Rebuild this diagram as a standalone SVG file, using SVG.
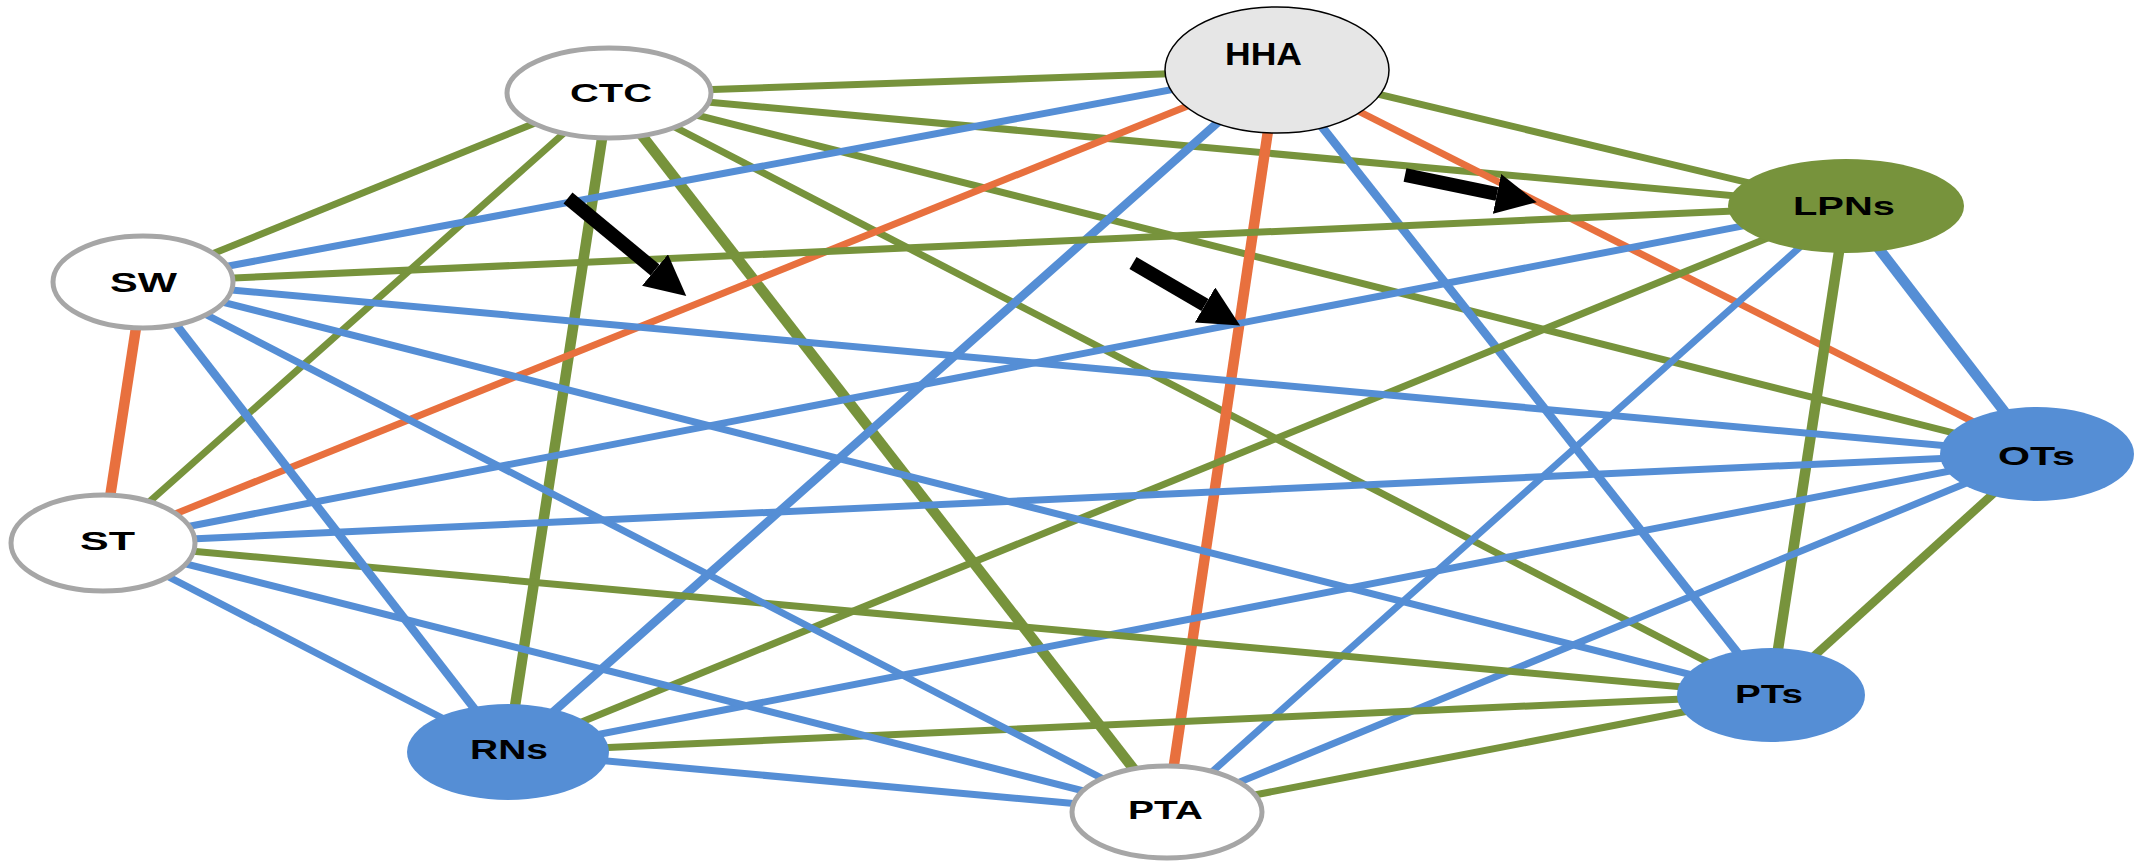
<svg xmlns="http://www.w3.org/2000/svg" width="2136" height="861" viewBox="0 0 2136 861">
<style>
.e{fill:none;stroke-linecap:butt}
.g{stroke:#77933c}
.b{stroke:#558ed5}
.o{stroke:#e8703e}
.n{stroke-width:7}
.m{stroke-width:8.5}
.t{stroke-width:10.5}
.wn{fill:#ffffff;stroke:#a6a6a6;stroke-width:5}
.bn{fill:#558ed5}
.lbl{font-family:"Liberation Sans",Arial,sans-serif;font-weight:bold;fill:#000}
.arr{stroke:#000;stroke-width:14;fill:none}
</style>
<defs>
<marker id="ah" viewBox="0 0 10 10" refX="0" refY="5" markerWidth="2.9" markerHeight="2.9" markerUnits="strokeWidth" orient="auto">
<path d="M0,0 L10,5 L0,10 z" fill="#000"/>
</marker>
</defs>
<rect width="2136" height="861" fill="#fff"/>
<g id="connectors">
<line class="e g n" x1="609" y1="93" x2="1277" y2="70"/>
<line class="e g n" x1="609" y1="93" x2="1846" y2="206"/>
<line class="e g n" x1="609" y1="93" x2="2037" y2="454"/>
<line class="e g n" x1="609" y1="93" x2="1771" y2="695"/>
<line class="e g t" x1="609" y1="93" x2="1167" y2="812"/>
<line class="e g t" x1="609" y1="93" x2="508" y2="752"/>
<line class="e g n" x1="609" y1="93" x2="103" y2="543"/>
<line class="e g n" x1="609" y1="93" x2="143" y2="282"/>
<line class="e b n" x1="1277" y1="70" x2="143" y2="282"/>
<line class="e o n" x1="1277" y1="70" x2="103" y2="543"/>
<line class="e b m" x1="1277" y1="70" x2="508" y2="752"/>
<line class="e o t" x1="1277" y1="70" x2="1167" y2="812"/>
<line class="e b m" x1="1277" y1="70" x2="1771" y2="695"/>
<line class="e o n" x1="1277" y1="70" x2="2037" y2="454"/>
<line class="e g n" x1="1277" y1="70" x2="1846" y2="206"/>
<line class="e g n" x1="1846" y1="206" x2="143" y2="282"/>
<line class="e b n" x1="1846" y1="206" x2="103" y2="543"/>
<line class="e g n" x1="1846" y1="206" x2="508" y2="752"/>
<line class="e b n" x1="1846" y1="206" x2="1167" y2="812"/>
<line class="e g t" x1="1846" y1="206" x2="1771" y2="695"/>
<line class="e b t" x1="1846" y1="206" x2="2037" y2="454"/>
<line class="e b n" x1="2037" y1="454" x2="143" y2="282"/>
<line class="e b n" x1="2037" y1="454" x2="103" y2="543"/>
<line class="e b n" x1="2037" y1="454" x2="508" y2="752"/>
<line class="e b n" x1="2037" y1="454" x2="1167" y2="812"/>
<line class="e g m" x1="2037" y1="454" x2="1771" y2="695"/>
<line class="e b n" x1="1771" y1="695" x2="143" y2="282"/>
<line class="e g n" x1="1771" y1="695" x2="103" y2="543"/>
<line class="e g n" x1="1771" y1="695" x2="508" y2="752"/>
<line class="e g n" x1="1771" y1="695" x2="1167" y2="812"/>
<line class="e b n" x1="1167" y1="812" x2="143" y2="282"/>
<line class="e b n" x1="1167" y1="812" x2="103" y2="543"/>
<line class="e b n" x1="1167" y1="812" x2="508" y2="752"/>
<line class="e b m" x1="508" y1="752" x2="143" y2="282"/>
<line class="e b n" x1="508" y1="752" x2="103" y2="543"/>
<line class="e o t" x1="143" y1="282" x2="103" y2="543"/>
</g>
<g id="node-HHA">
<ellipse cx="1277" cy="70" rx="112" ry="63" fill="#e6e6e6" stroke="#000" stroke-width="1.5"/>
<text class="lbl" x="1225" y="65" font-size="32" textLength="77" lengthAdjust="spacingAndGlyphs">HHA</text>
</g>
<g id="node-CTC">
<ellipse class="wn" cx="609" cy="93" rx="102" ry="45"/>
<text class="lbl" x="570" y="102" font-size="25" textLength="82" lengthAdjust="spacingAndGlyphs">CTC</text>
</g>
<g id="node-SW">
<ellipse class="wn" cx="143" cy="282" rx="90" ry="46"/>
<text class="lbl" x="110" y="292" font-size="27" textLength="67" lengthAdjust="spacingAndGlyphs">SW</text>
</g>
<g id="node-ST">
<ellipse class="wn" cx="103" cy="543" rx="92" ry="48"/>
<text class="lbl" x="80" y="550" font-size="25" textLength="55" lengthAdjust="spacingAndGlyphs">ST</text>
</g>
<g id="node-RNs">
<ellipse class="bn" cx="508" cy="752" rx="101" ry="48"/>
<text class="lbl" x="470" y="759" font-size="27" textLength="78" lengthAdjust="spacingAndGlyphs">RNs</text>
</g>
<g id="node-PTA">
<ellipse class="wn" cx="1167" cy="812" rx="95" ry="46"/>
<text class="lbl" x="1128" y="819" font-size="26" textLength="75" lengthAdjust="spacingAndGlyphs">PTA</text>
</g>
<g id="node-PTs">
<ellipse class="bn" cx="1771" cy="695" rx="94" ry="47"/>
<text class="lbl" x="1735" y="703" font-size="26" textLength="68" lengthAdjust="spacingAndGlyphs">PTs</text>
</g>
<g id="node-OTs">
<ellipse class="bn" cx="2037" cy="454" rx="97" ry="47"/>
<text class="lbl" x="1998" y="465" font-size="25" textLength="77" lengthAdjust="spacingAndGlyphs">OTs</text>
</g>
<g id="node-LPNs">
<ellipse cx="1846" cy="206" rx="118" ry="47" fill="#77933c"/>
<text class="lbl" x="1793" y="215" font-size="25" textLength="102" lengthAdjust="spacingAndGlyphs">LPNs</text>
</g>
<g id="arrows">
<line class="arr" x1="568" y1="198" x2="655" y2="270" marker-end="url(#ah)"/>
<line class="arr" x1="1133" y1="263" x2="1205" y2="305" marker-end="url(#ah)"/>
<line class="arr" x1="1405" y1="175" x2="1497" y2="194" marker-end="url(#ah)"/>
</g>
</svg>
